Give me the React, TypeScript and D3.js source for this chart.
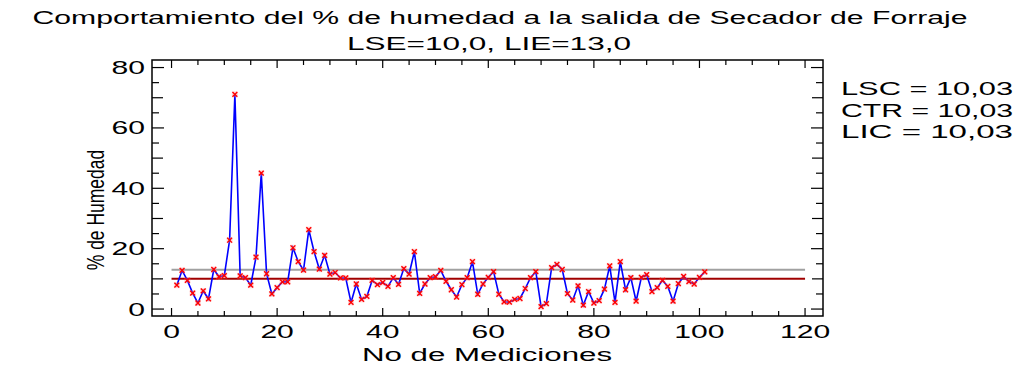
import * as d3 from 'd3'

const humedad = [
  7.9, 12.8, 9.5, 5.3, 2.0, 6.0, 3.4, 13.1, 10.7, 11.1,
  22.8, 71.1, 11.0, 10.4, 7.9, 17.2, 45.0, 11.7, 5.0, 7.1,
  9.0, 9.0, 20.3, 15.7, 12.9, 26.3, 19.0, 13.2, 17.8, 11.6,
  12.1, 10.3, 10.3, 2.2, 8.3, 3.2, 4.2, 9.5, 8.1, 8.8,
  7.5, 10.4, 8.2, 13.4, 11.6, 19.0, 5.2, 8.3, 10.4, 10.7,
  12.8, 9.2, 6.4, 4.0, 8.1, 10.4, 15.7, 4.9, 8.3, 10.5,
  12.4, 4.9, 2.4, 2.3, 3.2, 3.5, 6.8, 10.4, 12.4, 0.8,
  1.8, 13.7, 14.8, 13.1, 5.1, 3.0, 7.7, 1.3, 5.8, 2.0,
  2.8, 6.6, 14.3, 2.2, 15.7, 6.4, 10.4, 2.6, 10.5, 11.4,
  5.8, 7.1, 9.5, 7.5, 2.6, 8.4, 10.8, 9.1, 8.3, 10.5,
  12.3,
]

const xTicks = [0, 20, 40, 60, 80, 100, 120]
const yTicks = [0, 20, 40, 60, 80]
const lie = 13.0
const ctr = 10.03
const legendLines = ['LSC = 10,03', 'CTR = 10,03', 'LIC = 10,03']

const FONT = '"Liberation Sans", Arial, sans-serif'
const SX = 1.72

export default function App() {
  const left = 152
  const right = 823
  const top = 60
  const bottom = 316

  const x = d3.scaleLinear().domain([-3.7, 123.4]).range([left, right])
  const y = d3.scaleLinear().domain([-2.3, 82.5]).range([bottom, top])

  const pts = humedad.map((v, i) => ({ n: i + 1, v }))
  const line = d3
    .line<{ n: number; v: number }>()
    .x((d) => x(d.n))
    .y((d) => y(d.v))

  const xMinor = d3.range(0, 121, 5)
  const yMinor = d3.range(0, 81, 5)

  const stretched = (tx: number, ty: number, txt: string, anchor: string, size = 17.5) => (
    <text
      key={txt + tx + ty}
      transform={`translate(${tx},${ty}) scale(${SX},1)`}
      textAnchor={anchor}
      fontSize={size}
      fontFamily={FONT}
      fill="#000"
    >
      {txt}
    </text>
  )

  return (
    <svg
      width={1023}
      height={367}
      style={{ position: 'absolute', left: 0, top: 0, background: '#fff' }}
    >
      <text
        x={500}
        y={24}
        textAnchor="middle"
        fontSize={17.5}
        fontFamily={FONT}
        textLength={935}
        lengthAdjust="spacingAndGlyphs"
      >
        Comportamiento del % de humedad a la salida de Secador de Forraje
      </text>
      <text
        x={489}
        y={50}
        textAnchor="middle"
        fontSize={17.5}
        fontFamily={FONT}
        textLength={284}
        lengthAdjust="spacingAndGlyphs"
      >
        LSE=10,0, LIE=13,0
      </text>

      {/* reference lines */}
      <line x1={x(0)} x2={x(120)} y1={y(lie)} y2={y(lie)} stroke="#a0a0a0" strokeWidth={2} />
      <line x1={x(0)} x2={x(120)} y1={y(ctr)} y2={y(ctr)} stroke="#a00000" strokeWidth={2} />

      <path d={line(pts) ?? ''} fill="none" stroke="#0000ff" strokeWidth={1.6} />
      {pts.map((d) => {
        const cx = x(d.n)
        const cy = y(d.v)
        const s = 2.4
        return (
          <g key={d.n}>
            <rect x={cx - 3} y={cy - 3} width={6} height={6} fill="#ff8080" opacity={0.3} />
            <path
              d={`M${cx - s},${cy - s}L${cx + s},${cy + s}M${cx - s},${cy + s}L${cx + s},${cy - s}`}
              stroke="#ff0000"
              strokeWidth={1.4}
            />
          </g>
        )
      })}

      {/* frame and ticks */}
      <rect x={left} y={top} width={right - left} height={bottom - top} fill="none" stroke="#000" strokeWidth={1.5} />
      {xMinor.map((t) => {
        const major = t % 20 === 0
        return (
          <g key={'xt' + t}>
            <line x1={x(t)} x2={x(t)} y1={bottom} y2={bottom - (major ? 8 : 5)} stroke="#000" strokeWidth={1.2} />
            <line x1={x(t)} x2={x(t)} y1={top} y2={top + (major ? 8 : 5)} stroke="#000" strokeWidth={1.2} />
          </g>
        )
      })}
      {yMinor.map((t) => {
        const len = t % 20 === 0 ? 12 : t % 10 === 0 ? 11 : 7
        return (
          <g key={'yt' + t}>
            <line x1={left} x2={left + len} y1={y(t)} y2={y(t)} stroke="#000" strokeWidth={1.2} />
            <line x1={right} x2={right - len} y1={y(t)} y2={y(t)} stroke="#000" strokeWidth={1.2} />
          </g>
        )
      })}

      {xTicks.map((t) => stretched(x(t), 338, String(t), 'middle'))}
      {yTicks.map((t) => stretched(left - 7, y(t) + 6.5, String(t), 'end'))}

      <text
        transform={`translate(104,210) scale(1.4,1) rotate(-90)`}
        textAnchor="middle"
        fontSize={17.5}
        fontFamily={FONT}
      >
        % de Humedad
      </text>
      <text
        x={487}
        y={361}
        textAnchor="middle"
        fontSize={17.5}
        fontFamily={FONT}
        textLength={250}
        lengthAdjust="spacingAndGlyphs"
      >
        No de Mediciones
      </text>

      {legendLines.map((s, i) => (
        <text
          key={s + i}
          x={841}
          y={95 + i * 21.5}
          fontSize={17.5}
          fontFamily={FONT}
          textLength={172}
          lengthAdjust="spacingAndGlyphs"
        >
          {s}
        </text>
      ))}
    </svg>
  )
}
